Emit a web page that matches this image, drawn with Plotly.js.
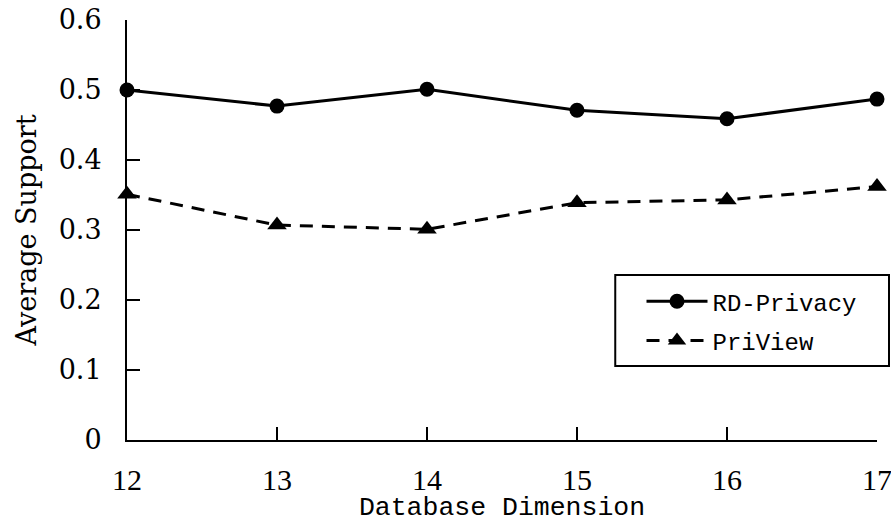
<!DOCTYPE html>
<html>
<head>
<meta charset="utf-8">
<script src="https://cdn.plot.ly/plotly-3.0.1.min.js"></script>
<style>html,body{margin:0;padding:0;background:#fff;}#chart{width:891px;height:523px;}</style>
</head>
<body>
<div id="chart"></div>
<script>
const dimensions = [12, 13, 14, 15, 16, 17];
const rdPrivacy = [0.500, 0.477, 0.501, 0.471, 0.459, 0.487];
const priView = [0.351, 0.307, 0.301, 0.339, 0.343, 0.362];
const seriesNames = ['RD-Privacy', 'PriView'];

const serif = 'DejaVu Serif, Liberation Serif, serif';
const serifNarrow = 'Liberation Serif, DejaVu Serif, serif';
const mono = 'Liberation Mono, DejaVu Sans Mono, monospace';

const traces = [
  {
    x: dimensions, y: rdPrivacy, name: seriesNames[0], type: 'scatter', mode: 'lines+markers',
    line: {color: '#000', width: 3}, marker: {symbol: 'circle', size: 15, color: '#000'},
    cliponaxis: false, legendgroup: 'a'
  },
  {
    x: dimensions, y: priView, name: seriesNames[1], type: 'scatter', mode: 'lines+markers',
    line: {color: '#000', width: 3, dash: '13px,9px'}, marker: {symbol: 'triangle-up', size: 17, color: '#000'},
    cliponaxis: false, legendgroup: 'b'
  }
];

const layout = {
  width: 891, height: 523,
  margin: {l: 127, r: 14, t: 20, b: 83},
  paper_bgcolor: '#fff', plot_bgcolor: '#fff',
  showlegend: true,
  shapes: [{
    type: 'rect', xref: 'paper', yref: 'paper',
    x0: 0.651, x1: 1.016, y0: 0.176, y1: 0.393,
    line: {color: '#000', width: 2}, fillcolor: 'rgba(0,0,0,0)', layer: 'above'
  }],
  legend: {
    x: 0.686, y: 0.383, xanchor: 'left', yanchor: 'top',
    bgcolor: 'rgba(0,0,0,0)', borderwidth: 0,
    font: {family: mono, size: 24, color: '#000'},
    traceorder: 'grouped', tracegroupgap: 5, itemwidth: 61
  },
  xaxis: {
    range: [12, 17], tickvals: dimensions, ticks: 'inside', ticklen: 13, tickwidth: 2, tickcolor: '#000',
    showline: true, linecolor: '#000', linewidth: 2, showgrid: false, zeroline: false,
    tickfont: {family: serifNarrow, size: 30, color: '#000'}, ticklabelstandoff: 12, ticklabeloverflow: 'allow',
    title: {text: 'Database Dimension', font: {family: mono, size: 26.5, color: '#000'}, standoff: 0}
  },
  yaxis: {
    range: [0, 0.6], dtick: 0.1, ticks: 'inside', ticklen: 13, tickwidth: 2, tickcolor: '#000',
    showline: true, linecolor: '#000', linewidth: 2, showgrid: false, zeroline: false,
    tickfont: {family: serif, size: 27, color: '#000'}, ticklabelstandoff: 18, ticklabeloverflow: 'allow',
    title: {text: 'Average Support', font: {family: serif, size: 27, color: '#000'}, standoff: 14}
  }
};

Plotly.newPlot('chart', traces, layout, {displayModeBar: false, staticPlot: true});
</script>
</body>
</html>
